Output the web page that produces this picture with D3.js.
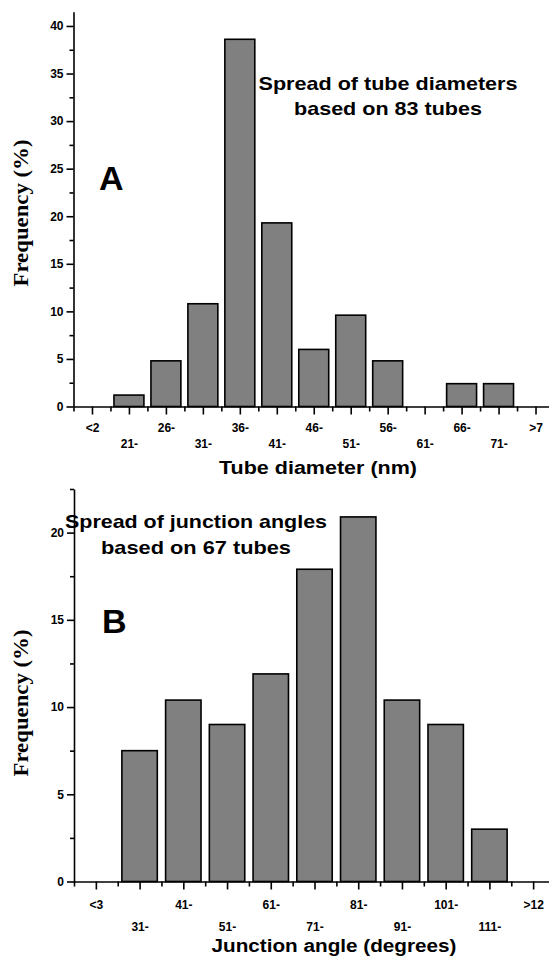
<!DOCTYPE html>
<html>
<head>
<meta charset="utf-8">
<script src="https://cdn.jsdelivr.net/npm/d3@7"></script>
<style>
	body { margin: 0; background: #fff; }
	svg { display: block; }
	.axis path, .axis line { stroke: #000; stroke-width: 1.6; }
	.axis text { font-family: "Liberation Sans Narrow", "Liberation Sans", Arial, sans-serif; font-weight: bold; font-size: 12px; fill: #000; }
</style>
</head>
<body>
<div></div>
<script>
// panel A : tube diameters
var diamBins = ["<2", "21-", "26-", "31-", "36-", "41-", "46-", "51-", "56-", "61-", "66-", "71-", ">7"],
	diamFreq = [0, 1.2, 4.8, 10.8, 38.6, 19.3, 6.0, 9.6, 4.8, 0, 2.4, 2.4, 0],
	diamTicks = [0, 5, 10, 15, 20, 25, 30, 35, 40],
	diamMinor = [2.5, 7.5, 12.5, 17.5, 22.5, 27.5, 32.5, 37.5];

// panel B : junction angles
var angleBins = ["<3", "31-", "41-", "51-", "61-", "71-", "81-", "91-", "101-", "111-", ">12"],
	angleFreq = [0, 7.5, 10.4, 9.0, 11.9, 17.9, 20.9, 10.4, 9.0, 3.0, 0],
	angleTicks = [0, 5, 10, 15, 20],
	angleMinor = [2.5, 7.5, 12.5, 17.5, 22.5];

var svgContainer;

function onLoad() {
	svgContainer = d3.select("div")
	.append("svg")
	.attr("width", 549)
	.attr("height", 956);

	drawPanel({
		bins: diamBins, freq: diamFreq, yTicks: diamTicks, yMinor: diamMinor, yMax: 41.5,
		left: 73.5, right: 554, top: 11.7, bottom: 406.5,
		row1: 21, row2: 37.5,
		letter: "A", letterPos: {x: 99, y: 190},
		note: ["Spread of tube diameters", "based on 83 tubes"],
		notePos: {x: 388, y1: 90, y2: 115, w1: 259, w2: 188},
		xTitle: "Tube diameter (nm)", xTitlePos: {x: 318, y: 474, w: 198},
		yTitlePos: {x: 28, y: 213}
	});

	drawPanel({
		bins: angleBins, freq: angleFreq, yTicks: angleTicks, yMinor: angleMinor, yMax: 22.5,
		left: 74, right: 555, top: 489, bottom: 881.5,
		row1: 23.5, row2: 45.5,
		letter: "B", letterPos: {x: 102, y: 633},
		note: ["Spread of junction angles", "based on 67 tubes"],
		notePos: {x: 196, y1: 528, y2: 554, w1: 262, w2: 190},
		xTitle: "Junction angle (degrees)", xTitlePos: {x: 334, y: 952, w: 245},
		yTitlePos: {x: 28, y: 703}
	});
}

function drawPanel(p) {
	var n = p.bins.length;
	var xScale = d3.scaleLinear().domain([-0.5, n - 0.5]).range([p.left, p.right]);
	var yScale = d3.scaleLinear().domain([0, p.yMax]).range([p.bottom, p.top]);
	var barWidth = (xScale(1) - xScale(0)) * 0.81;

	var g = svgContainer.append("g");

	// bars first, axes on top of them
	g.selectAll("rect")
	.data(p.freq.map((v, i) => ({v: v, i: i})).filter(d => d.v > 0))
	.join("rect")
	.attr("x", d => xScale(d.i) - barWidth / 2)
	.attr("y", d => yScale(d.v))
	.attr("width", barWidth)
	.attr("height", d => yScale(0) - yScale(d.v))
	.attr("fill", "#808080")
	.attr("stroke", "#000")
	.attr("stroke-width", 1.6);

	g.append("g")
	.attr("class", "axis")
	.attr("transform", "translate(" + p.left + ",0)")
	.call(d3.axisLeft(yScale).tickValues(p.yTicks).tickSize(7).tickSizeOuter(0).tickPadding(3).tickFormat(d3.format("d")));

	g.append("g")
	.attr("class", "axis")
	.attr("transform", "translate(" + p.left + ",0)")
	.call(d3.axisLeft(yScale).tickValues(p.yMinor).tickSize(4).tickFormat(""))
	.select(".domain").remove();

	var xAxisGroup = g.append("g")
	.attr("class", "axis")
	.attr("transform", "translate(0," + p.bottom + ")")
	.call(d3.axisBottom(xScale).tickValues(d3.range(n)).tickSize(8).tickSizeOuter(0).tickFormat(i => p.bins[i]));

	// labels alternate between two rows
	xAxisGroup.selectAll("text")
	.attr("y", i => i % 2 ? p.row2 : p.row1)
	.attr("dy", "0.35em");

	g.append("g")
	.attr("class", "axis")
	.attr("transform", "translate(0," + p.bottom + ")")
	.call(d3.axisBottom(xScale).tickValues(d3.range(n + 1).map(i => i - 0.5)).tickSize(5).tickFormat(""))
	.select(".domain").remove();

	g.append("text")
	.attr("x", p.letterPos.x)
	.attr("y", p.letterPos.y)
	.attr("font-family", "Liberation Sans, Arial, sans-serif")
	.attr("font-weight", "bold")
	.attr("font-size", 34)
	.text(p.letter);

	var noteStyle = sel => sel
		.attr("text-anchor", "middle")
		.attr("font-family", "Liberation Sans, Arial, sans-serif")
		.attr("font-weight", "bold")
		.attr("font-size", 19)
		.attr("lengthAdjust", "spacingAndGlyphs");

	g.append("text").call(noteStyle)
	.attr("x", p.notePos.x).attr("y", p.notePos.y1)
	.attr("textLength", p.notePos.w1)
	.text(p.note[0]);

	g.append("text").call(noteStyle)
	.attr("x", p.notePos.x).attr("y", p.notePos.y2)
	.attr("textLength", p.notePos.w2)
	.text(p.note[1]);

	g.append("text").call(noteStyle)
	.attr("x", p.xTitlePos.x).attr("y", p.xTitlePos.y)
	.attr("font-size", 18)
	.attr("textLength", p.xTitlePos.w)
	.text(p.xTitle);

	g.append("text")
	.attr("transform", "translate(" + p.yTitlePos.x + "," + p.yTitlePos.y + ") rotate(-90)")
	.attr("text-anchor", "middle")
	.attr("font-family", "Liberation Serif, Times New Roman, serif")
	.attr("font-weight", "bold")
	.attr("font-size", 20)
	.attr("textLength", 147)
	.attr("lengthAdjust", "spacingAndGlyphs")
	.text("Frequency (%)");
}

onLoad();
</script>
</body>
</html>
